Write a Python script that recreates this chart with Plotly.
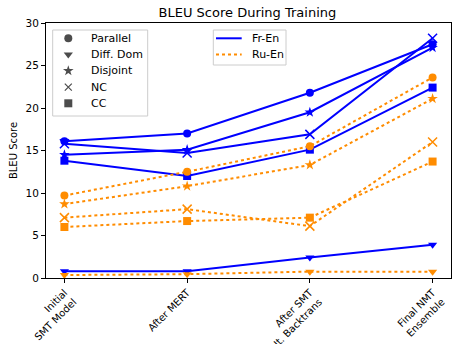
import plotly.graph_objects as go

stages = ["Initial<br>SMT Model", "After MERT", "After SMT<br>It. Backtrans", "Final NMT<br>Ensemble"]
x_pos = [0, 1, 2, 3]

# BLEU scores per training stage, Fr-En
fr_parallel = [16.1, 17.0, 21.8, 27.5]
fr_diffdom = [0.8, 0.8, 2.4, 3.9]
fr_disjoint = [14.5, 15.1, 19.5, 27.1]
fr_nc = [15.8, 14.7, 16.9, 28.2]
fr_cc = [13.8, 12.0, 15.1, 22.4]

# BLEU scores per training stage, Ru-En
ru_parallel = [9.7, 12.5, 15.5, 23.6]
ru_diffdom = [0.35, 0.45, 0.75, 0.75]
ru_disjoint = [8.7, 10.8, 13.3, 21.1]
ru_nc = [7.1, 8.1, 6.1, 16.0]
ru_cc = [6.0, 6.7, 7.1, 13.7]

setting_names = ["Parallel", "Diff. Dom", "Disjoint", "NC", "CC"]
symbols = ["circle", "triangle-down", "star", "x-thin", "square"]
pair_names = ["Fr-En", "Ru-En"]
pair_colors = ["#0000ff", "#ff8c00"]
pair_dashes = ["solid", "dot"]
pair_series = [[fr_parallel, fr_diffdom, fr_disjoint, fr_nc, fr_cc],
               [ru_parallel, ru_diffdom, ru_disjoint, ru_nc, ru_cc]]

FONT = "DejaVu Sans"
LEG_FONT = dict(family=FONT, size=11, color="black")


def marker_style(sym, color):
    thin = sym == "x-thin"
    return dict(symbol=sym, size=9 if thin else 8, color=color,
                line=dict(color=color, width=1.5 if thin else 0))


fig = go.Figure()

for color, dash, series in zip(pair_colors, pair_dashes, pair_series):
    for sym, vals in zip(symbols, series):
        fig.add_trace(go.Scatter(
            x=x_pos, y=vals, mode="lines+markers", showlegend=False,
            line=dict(color=color, width=2, dash=dash),
            marker=marker_style(sym, color),
        ))

# Legends are laid out on an overlay axis measured in plot-area pixels
# (x: 0..405 from the left edge, y: 0..255 from the bottom edge).
shapes, annotations = [], []

# settings legend (marker shapes)
row_y = [239.7 - 16.25 * i for i in range(len(setting_names))]
shapes.append(dict(type="rect", xref="x2", yref="y2", x0=6.7, x1=101.7, y0=162, y1=248,
                   line=dict(color="#cccccc", width=1), fillcolor="rgba(255,255,255,0.8)",
                   layer="below"))
fig.add_trace(go.Scatter(
    x=[22.3] * len(symbols), y=row_y, xaxis="x2", yaxis="y2", mode="markers",
    showlegend=False, hoverinfo="skip",
    marker=dict(symbol=symbols, size=[8, 8, 8, 7, 8], color="black",
                line=dict(color="black", width=[0, 0, 0, 1.2, 0])),
))
for name, yv in zip(setting_names, row_y):
    annotations.append(dict(xref="x2", yref="y2", x=43.3, y=yv, text=name, showarrow=False,
                            xanchor="left", yanchor="middle", font=LEG_FONT))

# language-pair legend (line styles)
shapes.append(dict(type="rect", xref="x2", yref="y2", x0=167.3, x1=240, y0=213, y1=248,
                   line=dict(color="#cccccc", width=1), fillcolor="rgba(255,255,255,0.8)",
                   layer="below"))
for name, color, dash, yv in zip(pair_names, pair_colors, pair_dashes, row_y[:2]):
    shapes.append(dict(type="line", xref="x2", yref="y2", x0=170, x1=195.7, y0=yv, y1=yv,
                       line=dict(color=color, width=2, dash=dash)))
    annotations.append(dict(xref="x2", yref="y2", x=204, y=yv, text=name, showarrow=False,
                            xanchor="left", yanchor="middle", font=LEG_FONT))

fig.update_layout(
    width=454, height=344,
    margin=dict(l=46, r=3, t=23, b=66),
    paper_bgcolor="white", plot_bgcolor="white",
    font=dict(family=FONT, size=10, color="black"),
    showlegend=False,
    title=dict(text="BLEU Score During Training", x=0.545, xanchor="center",
               y=0.965, yanchor="middle", font=dict(size=13, family=FONT)),
    shapes=shapes, annotations=annotations,
    xaxis=dict(
        range=[-0.15, 3.15], tickmode="array", tickvals=x_pos, ticktext=stages,
        tickangle=-45, ticks="outside", ticklen=4, tickcolor="black", automargin=False,
        showline=True, linecolor="black", linewidth=1, mirror=True,
        showgrid=False, zeroline=False, tickfont=dict(size=10, family=FONT),
    ),
    yaxis=dict(
        range=[0, 30], tickmode="array", tickvals=[0, 5, 10, 15, 20, 25, 30],
        ticks="outside", ticklen=4, tickcolor="black", automargin=False,
        showline=True, linecolor="black", linewidth=1, mirror=True,
        showgrid=False, zeroline=False, tickfont=dict(size=10.5, family=FONT),
        title=dict(text="BLEU Score", font=dict(size=10, family=FONT), standoff=6),
    ),
    xaxis2=dict(overlaying="x", anchor="y2", range=[0, 405], visible=False, fixedrange=True),
    yaxis2=dict(overlaying="y", anchor="x2", range=[0, 255], visible=False, fixedrange=True),
)

fig.write_html("out.html")
